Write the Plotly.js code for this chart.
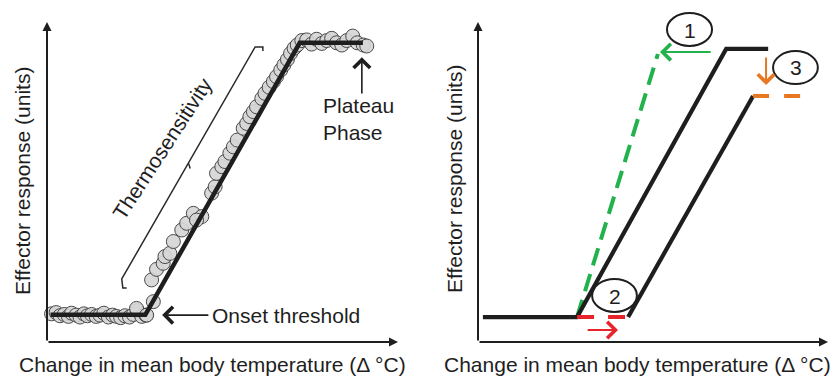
<!DOCTYPE html>
<html>
<head>
<meta charset="utf-8">
<script src="https://cdn.plot.ly/plotly-3.0.1.min.js"></script>
<style>html,body{margin:0;padding:0;background:#fff;}#chart{width:831px;height:377px;}</style>
</head>
<body>
<div id="chart"></div>
<script>
// ---- Left panel: observed responses ----
const obsX = [0.13,0.26,0.37,0.49,0.61,0.70,0.83,0.94,1.05,1.15,1.27,1.40,1.51,1.62,1.75,1.87,1.98,2.10,2.22,2.35,2.46,2.57,2.70,2.82,2.55,3.03,2.84,
  2.98,3.12,3.31,3.36,3.50,3.60,3.84,3.98,4.17,4.41,4.26,4.69,4.79,4.83,4.98,5.07,5.21,5.31,5.42,5.59,5.69,5.78,5.88,5.97,6.12,6.21,6.33,6.45,6.54,6.66,6.75,6.85,6.94,7.04,7.13,
  7.26,7.40,7.54,7.68,7.83,7.97,8.11,8.25,8.40,8.54,8.71,8.84,9.01,9.11];
const obsY = [0.88,0.92,0.82,0.86,0.80,0.90,0.84,0.78,0.88,0.82,0.86,0.80,0.84,0.90,0.78,0.84,0.80,0.76,0.82,0.78,0.86,0.98,0.80,0.84,1.05,1.26,0.84,
  1.94,2.27,2.46,2.67,2.77,3.14,3.50,3.71,4.02,3.92,3.81,4.65,4.85,5.27,5.48,5.64,5.90,6.10,6.31,6.68,6.83,7.04,7.20,7.35,7.61,7.77,7.96,8.14,8.29,8.50,8.66,8.83,9.02,9.18,9.28,
  9.42,9.44,9.31,9.46,9.33,9.42,9.49,9.35,9.28,9.42,9.56,9.35,9.28,9.25];
const fitX = [0.1, 2.8, 7.2, 9.0];
const fitY = [0.85, 0.85, 9.35, 9.35];

// ---- Right panel: schematic curves ----
const baseX = [0.14, 2.83, 7.09, 8.29];
const baseY = [0.78, 0.78, 9.16, 9.16];
const shiftX = [4.29, 7.86];
const shiftY = [0.78, 7.69];
const plateauDropX = [7.86, 9.26];
const plateauDropY = [7.69, 7.69];
const onsetShiftX = [2.83, 4.29];
const onsetShiftY = [0.78, 0.78];
const slopeX = [2.83, 5.14];
const slopeY = [0.78, 9.0];

const labels = ["1", "2", "3"];
const xTitle = "Change in mean body temperature (Δ °C)";
const yTitle = "Effector response (units)";

const W = 831, H = 377;
const FONT = "Liberation Sans, Arial, Helvetica, sans-serif";
const TXT = "#1e1e1e";
function P(x, y) { return {xref: 'paper', yref: 'paper', x: x / W, y: 1 - y / H}; }

const traces = [
  {x: obsX, y: obsY, type: 'scatter', mode: 'markers', xaxis: 'x', yaxis: 'y',
   marker: {size: 14, color: '#d6d6d6', opacity: 0.92, line: {color: '#3c3c3c', width: 1}}, hoverinfo: 'skip'},
  {x: fitX, y: fitY, type: 'scatter', mode: 'lines', xaxis: 'x', yaxis: 'y',
   line: {color: '#1e1e1e', width: 4.5}, hoverinfo: 'skip'},
  {x: slopeX, y: slopeY, type: 'scatter', mode: 'lines', xaxis: 'x2', yaxis: 'y2',
   line: {color: '#22b24c', width: 4, dash: '18px,9px'}, hoverinfo: 'skip'},
  {x: baseX, y: baseY, type: 'scatter', mode: 'lines', xaxis: 'x2', yaxis: 'y2',
   line: {color: '#1e1e1e', width: 4.2}, hoverinfo: 'skip'},
  {x: shiftX, y: shiftY, type: 'scatter', mode: 'lines', xaxis: 'x2', yaxis: 'y2',
   line: {color: '#1e1e1e', width: 4.2}, hoverinfo: 'skip'},
  {x: onsetShiftX, y: onsetShiftY, type: 'scatter', mode: 'lines', xaxis: 'x2', yaxis: 'y2',
   line: {color: '#e8242b', width: 4, dash: '17px,14px'}, hoverinfo: 'skip'},
  {x: plateauDropX, y: plateauDropY, type: 'scatter', mode: 'lines', xaxis: 'x2', yaxis: 'y2',
   line: {color: '#e87722', width: 4, dash: '16px,15px'}, hoverinfo: 'skip'}
];

function arrow(xr, yr, x, y, ax, ay, color, width, head, size) {
  return {xref: xr, yref: yr, axref: xr, ayref: yr, x: x, y: y, ax: ax, ay: ay, text: '',
    showarrow: true, arrowhead: head, arrowwidth: width, arrowsize: size, arrowcolor: color,
    standoff: 0, startstandoff: 0};
}
function txt(pos, text, opts) {
  return Object.assign({}, pos, {text: text, showarrow: false, xanchor: 'center', yanchor: 'middle',
    font: {family: FONT, size: 21, color: TXT}}, opts || {});
}

const annotations = [
  // axes
  arrow('x', 'y', 0, 10, 0, 0, '#1e1e1e', 2, 2, 0.9),
  arrow('x', 'y', 10, 0, 0, 0, '#1e1e1e', 2, 2, 0.9),
  arrow('x2', 'y2', 0, 10, 0, 0, '#1e1e1e', 2, 2, 0.9),
  arrow('x2', 'y2', 10, 0, 0, 0, '#1e1e1e', 2, 2, 0.9),
  // left panel pointers
  arrow('x', 'y', 3.28, 0.84, 4.64, 0.84, '#1e1e1e', 1.6, 4, 2),
  arrow('x', 'y', 8.97, 8.9, 8.97, 7.72, '#1e1e1e', 1.6, 4, 2),
  // right panel pointers
  arrow('x2', 'y2', 5.2, 9.06, 6.69, 9.06, '#22b24c', 2, 4, 1.6),
  arrow('x2', 'y2', 8.23, 8.03, 8.23, 8.94, '#e87722', 2, 4, 1.6),
  arrow('x2', 'y2', 4.0, 0.375, 3.09, 0.375, '#e8242b', 2, 4, 1.6),
  // titles
  txt(P(213, 364), xTitle),
  txt(P(637, 364), xTitle),
  txt(P(23, 181), yTitle, {textangle: -90}),
  txt(P(454, 179), yTitle, {textangle: -90}),
  // left labels
  txt(P(210, 315), 'Onset threshold', {xanchor: 'left'}),
  txt(P(321, 119), 'Plateau<br>Phase', {xanchor: 'left', align: 'left'}),
  txt(P(162, 148), 'Thermosensitivity', {textangle: -57}),
  // circle numbers
  txt(P(689.5, 30), labels[0]),
  txt(P(614.5, 296), labels[1]),
  txt(P(795.5, 68), labels[2])
];

const shapes = [
  // bracket
  {type: 'path', xref: 'x', yref: 'y', layer: 'above',
   path: 'M6.15,9.09 L6.15,9.22 L5.93,9.22 L2.13,1.97 L2.16,1.69 L2.27,1.69',
   line: {color: '#2a2a2a', width: 1.5}},
  {type: 'line', xref: 'x', yref: 'y', x0: 4.03, y0: 5.59, x1: 4.08, y1: 5.42,
   line: {color: '#2a2a2a', width: 1.5}},
  // ellipses
  {type: 'circle', xref: 'x2', yref: 'y2', x0: 5.4, x1: 6.686, y0: 9.25, y1: 10.28,
   fillcolor: 'rgba(255,255,255,0)', line: {color: '#1e1e1e', width: 2}},
  {type: 'circle', xref: 'x2', yref: 'y2', x0: 3.26, x1: 4.54, y0: 0.94, y1: 1.97,
   fillcolor: 'rgba(255,255,255,0)', line: {color: '#1e1e1e', width: 2}},
  {type: 'circle', xref: 'x2', yref: 'y2', x0: 8.43, x1: 9.71, y0: 8.06, y1: 9.09,
   fillcolor: 'rgba(255,255,255,0)', line: {color: '#1e1e1e', width: 2}}
];

const hidden = {visible: false, fixedrange: true};
const layout = {
  width: W, height: H,
  margin: {l: 0, r: 0, t: 0, b: 0, pad: 0},
  paper_bgcolor: '#ffffff', plot_bgcolor: 'rgba(0,0,0,0)',
  showlegend: false,
  xaxis: Object.assign({domain: [0, 0.5], range: [-47 / 35.1, (415.5 - 47) / 35.1]}, hidden),
  yaxis: Object.assign({domain: [0, 1], range: [-35 / 32, 342 / 32], anchor: 'x'}, hidden),
  xaxis2: Object.assign({domain: [0.5, 1], range: [-(478 - 415.5) / 35, (831 - 478) / 35], anchor: 'y2'}, hidden),
  yaxis2: Object.assign({domain: [0, 1], range: [-35 / 32, 342 / 32], anchor: 'x2'}, hidden),
  annotations: annotations,
  shapes: shapes
};

Plotly.newPlot('chart', traces, layout, {displayModeBar: false, staticPlot: true});
</script>
</body>
</html>
